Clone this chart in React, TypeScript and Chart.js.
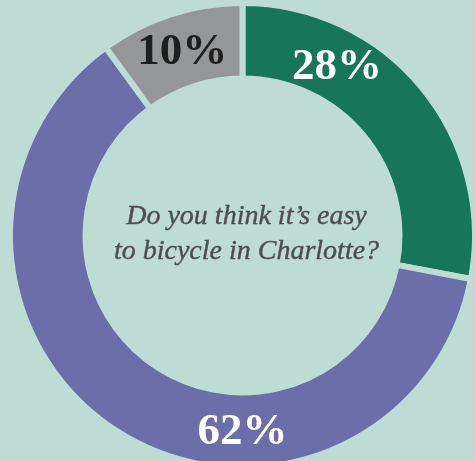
import React, { useEffect, useRef } from "react";
import { Chart, registerables } from "chart.js";

Chart.register(...registerables);

const categories = ["Yes", "No", "Not sure"];
const values = [28, 62, 10];
const valueLabels = ["28%", "62%", "10%"];
const sliceColors = ["#17765a", "#6a6fa9", "#959698"];
const labelColors = ["#ffffff", "#ffffff", "#1e1e1e"];
const centerLines = ["Do you think it\u2019s easy", "to bicycle in Charlotte?"];

const BG = "#bfdcd4";
// angle (degrees clockwise from top) where each value label sits on the ring
const labelAngles = [29, 180, -18];

const labelPlugin = {
  id: "ringLabels",
  afterDatasetsDraw(chart: any) {
    const meta = chart.getDatasetMeta(0);
    if (!meta.data.length) return;
    const arc0 = meta.data[0];
    const cx = arc0.x;
    const cy = arc0.y;
    const outer = arc0.outerRadius;
    const inner = arc0.innerRadius;
    const mid = (outer + inner) / 2;
    const ctx = chart.ctx;
    ctx.save();
    ctx.textAlign = "center";
    ctx.textBaseline = "middle";
    ctx.font = "bold 45px 'Liberation Serif', serif";
    meta.data.forEach((_: any, i: number) => {
      const a = (labelAngles[i] * Math.PI) / 180;
      const x = cx + mid * Math.sin(a);
      const y = cy - mid * Math.cos(a);
      ctx.fillStyle = labelColors[i];
      ctx.fillText(valueLabels[i], x, y + 2);
    });
    ctx.font = "italic 28px 'Liberation Serif', serif";
    ctx.fillStyle = "#4e4e4e";
    ctx.strokeStyle = "#4e4e4e";
    ctx.lineWidth = 0.4;
    ctx.textBaseline = "alphabetic";
    ctx.fillText(centerLines[0], cx + 4, cy - 12);
    ctx.strokeText(centerLines[0], cx + 4, cy - 12);
    ctx.fillText(centerLines[1], cx + 4, cy + 23);
    ctx.strokeText(centerLines[1], cx + 4, cy + 23);
    ctx.restore();
  },
};

export default function App() {
  const ref = useRef<HTMLCanvasElement>(null);
  useEffect(() => {
    if (!ref.current) return;
    const chart = new Chart(ref.current, {
      type: "doughnut",
      data: {
        labels: categories,
        datasets: [
          {
            data: values,
            backgroundColor: sliceColors,
            borderColor: BG,
            borderWidth: 6,
            hoverBorderWidth: 6,
          },
        ],
      },
      options: {
        responsive: false,
        animation: false,
        cutout: "67.5%",
        devicePixelRatio: 1,
        plugins: {
          legend: { display: false },
          tooltip: { enabled: false },
        },
        events: [],
      },
      plugins: [labelPlugin],
    });
    return () => chart.destroy();
  }, []);
  return (
    <div
      style={{
        position: "fixed",
        left: 0,
        top: 0,
        width: 475,
        height: 461,
        overflow: "hidden",
        background: BG,
      }}
    >
      <canvas
        ref={ref}
        width={471}
        height={471}
        style={{ position: "absolute", left: 7, top: 0, width: 471, height: 471 }}
      />
    </div>
  );
}
